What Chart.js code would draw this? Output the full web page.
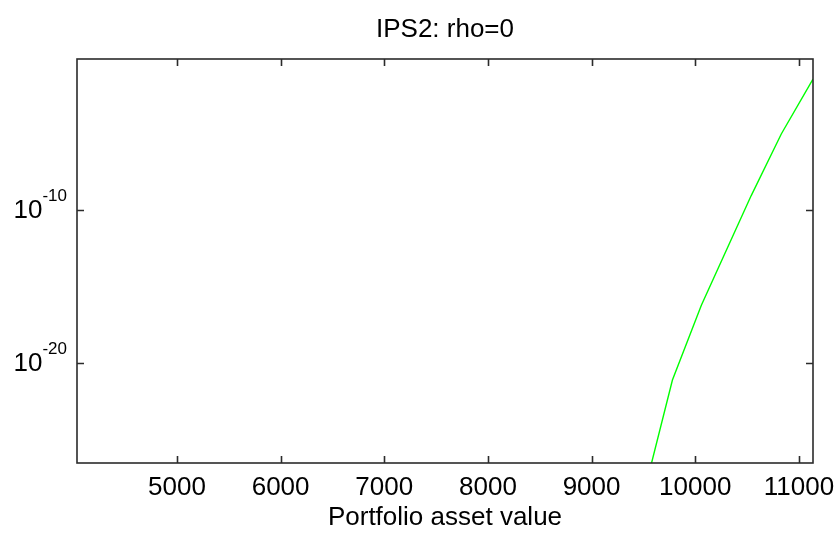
<!DOCTYPE html>
<html>
<head>
<meta charset="utf-8">
<script src="https://cdn.jsdelivr.net/npm/chart.js@4/dist/chart.umd.min.js"></script>
<style>
  html, body { margin: 0; padding: 0; background: #fff; }
</style>
</head>
<body>
<canvas id="ips-chart" width="837" height="535"></canvas>
<script>
// values
const assetValues = [9545, 9780, 10059, 10540, 10830, 11136];
const probabilities = [4.0e-28, 7.9e-22, 5.9e-17, 8.1e-10, 8.3e-6, 3.1e-2];
const xTicks = [5000, 6000, 7000, 8000, 9000, 10000, 11000];
const yTicks = [1e-20, 1e-10];
const yExponents = ['-20', '-10'];
const xRange = [4036, 11136];
const yRange = [3.16e-27, 0.631];
const chartTitle = 'IPS2: rho=0';

const FONT = 'Liberation Sans, Arial, Helvetica, sans-serif';
const AXIS_COLOR = '#2b2b2b';

// matlab style box, inward ticks, title over the axes and 10^n labels
const matlabAxes = {
  id: 'matlabAxes',
  afterDraw(chart) {
    const ctx = chart.ctx;
    const a = chart.chartArea;
    const xs = chart.scales.x;
    const ys = chart.scales.y;
    const len = 7;

    ctx.save();
    ctx.strokeStyle = AXIS_COLOR;
    ctx.lineWidth = 1.6;
    ctx.strokeRect(a.left, a.top, a.right - a.left, a.bottom - a.top);

    ctx.beginPath();
    xTicks.forEach(v => {
      const px = Math.round(xs.getPixelForValue(v)) + 0.5;
      ctx.moveTo(px, a.bottom); ctx.lineTo(px, a.bottom - len);
      ctx.moveTo(px, a.top); ctx.lineTo(px, a.top + len);
    });
    yTicks.forEach(v => {
      const py = Math.round(ys.getPixelForValue(v)) + 0.5;
      ctx.moveTo(a.left, py); ctx.lineTo(a.left + len, py);
      ctx.moveTo(a.right, py); ctx.lineTo(a.right - len, py);
    });
    ctx.stroke();

    ctx.fillStyle = '#000';
    ctx.textBaseline = 'alphabetic';

    ctx.font = '26px ' + FONT;
    ctx.textAlign = 'center';
    ctx.fillText(chartTitle, (a.left + a.right) / 2, a.top - 22);

    yTicks.forEach((v, i) => {
      const py = ys.getPixelForValue(v);
      const right = a.left - 10;
      ctx.font = '17px ' + FONT;
      const ew = ctx.measureText(yExponents[i]).width;
      ctx.textAlign = 'left';
      ctx.fillText(yExponents[i], right - ew, py - 9);
      ctx.font = '26px ' + FONT;
      ctx.textAlign = 'right';
      ctx.fillText('10', right - ew, py + 8);
    });
    ctx.restore();
  }
};

new Chart(document.getElementById('ips-chart'), {
  type: 'line',
  data: {
    datasets: [{
      label: 'IPS2',
      data: assetValues.map((x, i) => ({ x: x, y: probabilities[i] })),
      borderColor: 'rgb(0, 255, 0)',
      borderWidth: 1.4,
      pointRadius: 0,
      tension: 0,
      fill: false
    }]
  },
  options: {
    responsive: false,
    animation: false,
    devicePixelRatio: 1,
    layout: { padding: { left: 0, right: 24, top: 59, bottom: 0 } },
    plugins: {
      legend: { display: false },
      tooltip: { enabled: false },
      title: { display: false }
    },
    scales: {
      x: {
        type: 'linear',
        min: xRange[0],
        max: xRange[1],
        grid: { display: false },
        border: { display: false },
        afterBuildTicks: s => { s.ticks = xTicks.map(v => ({ value: v })); },
        afterFit: s => { s.height = 72; },
        ticks: {
          color: '#000',
          padding: 1,
          maxRotation: 0,
          autoSkip: false,
          font: { family: FONT, size: 26 },
          callback: v => String(v)
        },
        title: {
          display: true,
          text: 'Portfolio asset value',
          color: '#000',
          font: { family: FONT, size: 26 },
          padding: { top: 0, bottom: 2 }
        }
      },
      y: {
        type: 'logarithmic',
        min: yRange[0],
        max: yRange[1],
        grid: { display: false },
        border: { display: false },
        afterBuildTicks: s => { s.ticks = yTicks.map(v => ({ value: v })); },
        afterFit: s => { s.width = 77; },
        ticks: { display: false }
      }
    }
  },
  plugins: [matlabAxes]
});
</script>
</body>
</html>
